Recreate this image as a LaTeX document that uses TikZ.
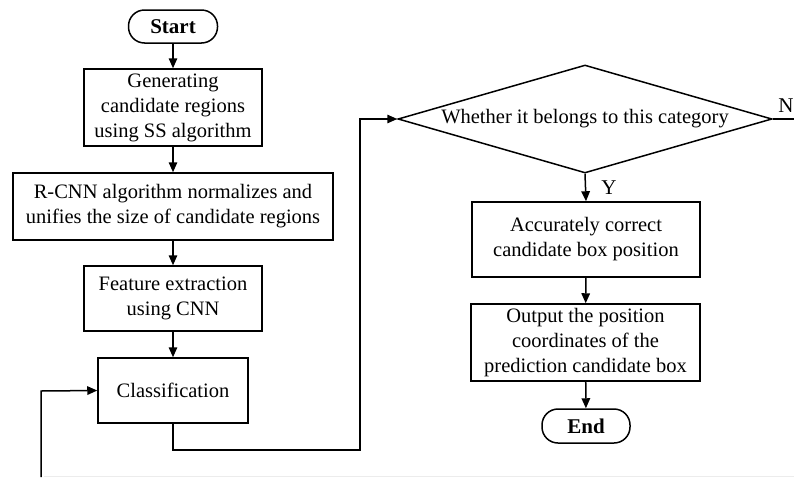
\documentclass[tikz,border=0pt]{standalone}
\usepackage{fontspec}
\setmainfont{Liberation Serif}
\usetikzlibrary{arrows.meta,shapes.geometric}
\tikzset{
  box/.style={draw, line width=1.5pt, align=center, inner sep=2pt,
    font=\fontsize{20.5}{25}\selectfont},
  term/.style={box, rounded corners=16pt, font=\fontsize{21}{25}\selectfont\bfseries},
  dec/.style={draw, line width=1.5pt, diamond, shape aspect=3.46, inner sep=0pt,
    font=\fontsize{20.5}{25}\selectfont},
  conn/.style={line width=1.5pt, -{Triangle[length=10pt,width=8.5pt]}},
  lab/.style={font=\fontsize{21}{25}\selectfont}
}
\begin{document}
\begin{tikzpicture}[x=1pt,y=-1pt]
\useasboundingbox (0,0) rectangle (794,477);
\clip (0,0) rectangle (794,477);
\node[term, minimum width=89pt, minimum height=33pt] (start) at (173,26.5) {Start};
\node[box, minimum width=178pt, minimum height=77pt] (gen) at (173,107.5)
  {Generating\\candidate regions\\using SS algorithm};
\node[box, minimum width=320pt, minimum height=67pt] (rcnn) at (173,206.5)
  {R-CNN algorithm normalizes and\\unifies the size of candidate regions};
\node[box, minimum width=178pt, minimum height=65pt] (feat) at (173,298.5)
  {Feature extraction\\using CNN};
\node[box, minimum width=150pt, minimum height=65pt] (cls) at (173,390.5)
  {Classification};
\node[dec, minimum width=374pt, minimum height=108pt] (dec) at (585,119)
  {Whether it belongs to this category};
\node[box, minimum width=228pt, minimum height=75pt] (acc) at (586,239.5)
  {Accurately correct\\candidate box position};
\node[box, minimum width=229pt, minimum height=77pt] (out) at (585.5,342.5)
  {Output the position\\coordinates of the\\prediction candidate box};
\node[term, minimum width=88pt, minimum height=34pt] (end) at (586,426) {End};
\node[lab] (y) at (609,188) {Y};
\node[lab] (n) at (786,106) {N};
\coordinate (c1) at (173,450);
\coordinate (c2) at (360,450);
\coordinate (c3) at (360,119);
\coordinate (fb0) at (41,477);
\coordinate (fb1) at (41,391);
\coordinate (nend) at (794,119);
\draw[conn] (start) -- (gen);
\draw[conn] (gen) -- (rcnn);
\draw[conn] (rcnn) -- (feat);
\draw[conn] (feat) -- (cls);
\draw[conn] (cls.south) -- (c1) -- (c2) -- (c3) -- (dec.west);
\draw[conn] (fb0) -- (fb1) -- (cls.west);
\draw[conn] (dec.south) -- (acc.north);
\draw[conn] (acc) -- (out);
\draw[conn] (out) -- (end);
\draw[line width=1.5pt] (dec.east) -- (nend);
\draw[gray!15, line width=0.8pt] (44,476.5) -- (794,476.5);
\end{tikzpicture}
\end{document}
